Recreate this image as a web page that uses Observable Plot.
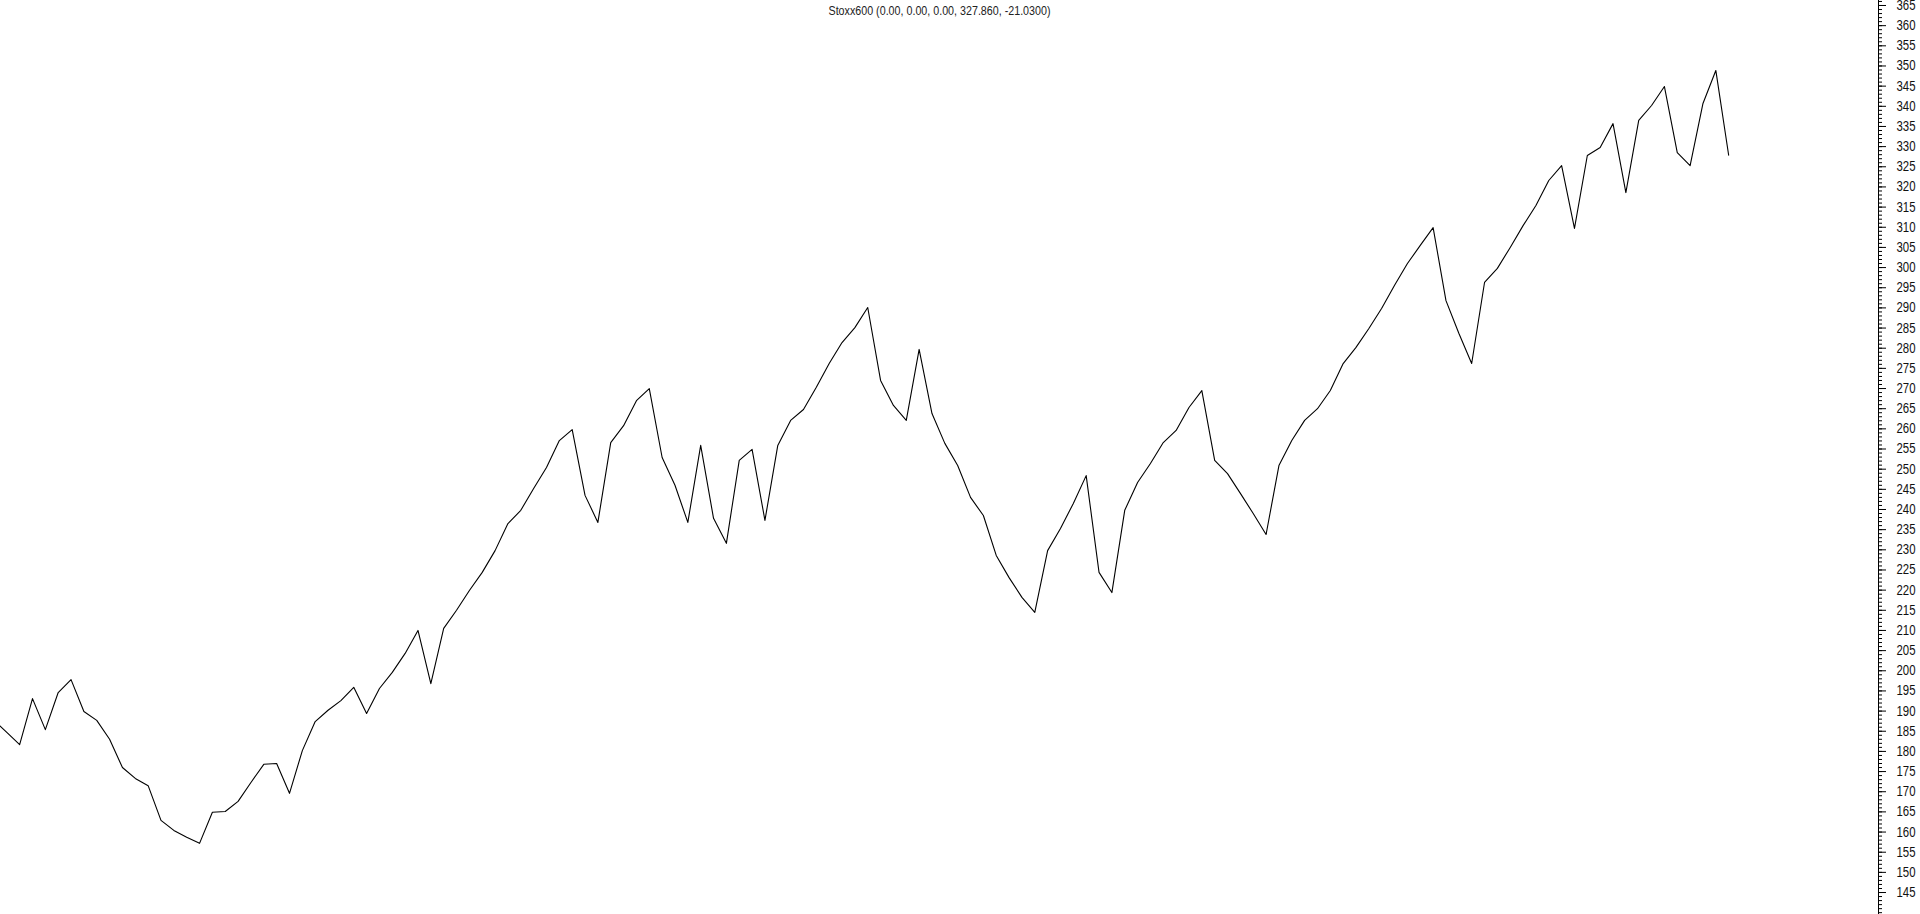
<!DOCTYPE html>
<html><head><meta charset="utf-8">
<script src="https://cdn.jsdelivr.net/npm/d3@7"></script>
<script src="https://cdn.jsdelivr.net/npm/@observablehq/plot@0.6"></script>
<style>html,body{margin:0;padding:0;background:#fff;overflow:hidden}</style>
</head><body><div id="chart"></div>
<script>
const seriesName = "Stoxx600";
const headerValues = ["0.00", "0.00", "0.00", "327.860", "-21.0300"];
const closes = [
  187.7, 184.7, 181.7, 193.1, 185.4, 194.6, 197.8, 189.9, 187.7, 183.0,
  176.0, 173.3, 171.5, 162.9, 160.4, 158.7, 157.2, 164.9, 165.1, 167.6,
  172.3, 176.8, 177.0, 169.6, 180.2, 187.4, 190.2, 192.6, 195.9, 189.4,
  195.6, 199.6, 204.3, 210.0, 196.8, 210.5, 215.0, 219.9, 224.4, 229.8,
  236.5, 239.8, 245.2, 250.4, 257.1, 259.8, 243.5, 236.8, 256.6, 260.8,
  267.0, 270.0, 252.9, 246.0, 236.8, 255.9, 237.8, 231.6, 252.2, 254.9,
  237.3, 255.9, 262.1, 264.8, 270.3, 276.2, 281.4, 285.1, 290.1, 272.0,
  265.8, 262.1, 279.7, 263.8, 256.4, 250.9, 243.0, 238.5, 228.6, 223.1,
  218.2, 214.5, 229.8, 235.3, 241.5, 248.4, 224.4, 219.4, 239.8, 246.7,
  251.4, 256.6, 259.6, 265.3, 269.5, 252.2, 248.9, 244.0, 239.0, 233.8,
  250.9, 257.1, 262.1, 265.0, 269.5, 276.2, 280.2, 284.9, 289.9, 295.6,
  301.0, 305.5, 309.9, 291.8, 283.7, 276.2, 296.3, 299.8, 305.0, 310.4,
  315.4, 321.6, 325.3, 309.7, 327.8, 329.8, 335.7, 318.6, 336.5, 340.2,
  344.9, 328.5, 325.3, 340.7, 348.89, 327.86
];
const yMajorTicks = d3.range(145, 366, 5);
const yMinorTicks = d3.range(140, 367, 1);

const data = closes.map((v, i) => ({i, v}));
const title = `${seriesName} (${headerValues.join(", ")})`;
const font = "'Liberation Sans Narrow', 'Liberation Sans', Arial, sans-serif";

const chart = Plot.plot({
  width: 1920,
  height: 914,
  marginTop: 0,
  marginBottom: 0,
  marginLeft: 0,
  marginRight: 42,
  style: {fontFamily: font, fontSize: "14px", color: "#000", background: "#fff", overflow: "visible"},
  x: {domain: [0.51, 146.66], axis: null},
  y: {domain: [139.55, 366.24], label: null, axis: null},
  marks: [
    Plot.frame({anchor: "right", stroke: "#000"}),
    Plot.axisY(yMinorTicks, {anchor: "right", tickSize: 3, tickFormat: () => "", label: null}),
    Plot.axisY(yMajorTicks, {anchor: "right", tickSize: 7, tickPadding: 11, label: null, fill: "#111", className: "major-axis"}),
    Plot.line(data, {x: "i", y: "v", stroke: "#000", strokeWidth: 1.1, clip: true}),
    Plot.text([title], {frameAnchor: "top", dy: 5, fontSize: 13, fill: "#222", fontFamily: font, className: "chart-title"})
  ]
});
document.getElementById("chart").appendChild(chart);

// Condense text to match the narrow typeface of the original
d3.select(chart).selectAll(".major-axis text")
  .attr("textLength", 19).attr("lengthAdjust", "spacingAndGlyphs");
d3.select(chart).selectAll(".chart-title text")
  .attr("textLength", 222).attr("lengthAdjust", "spacingAndGlyphs");
</script>
</body></html>
